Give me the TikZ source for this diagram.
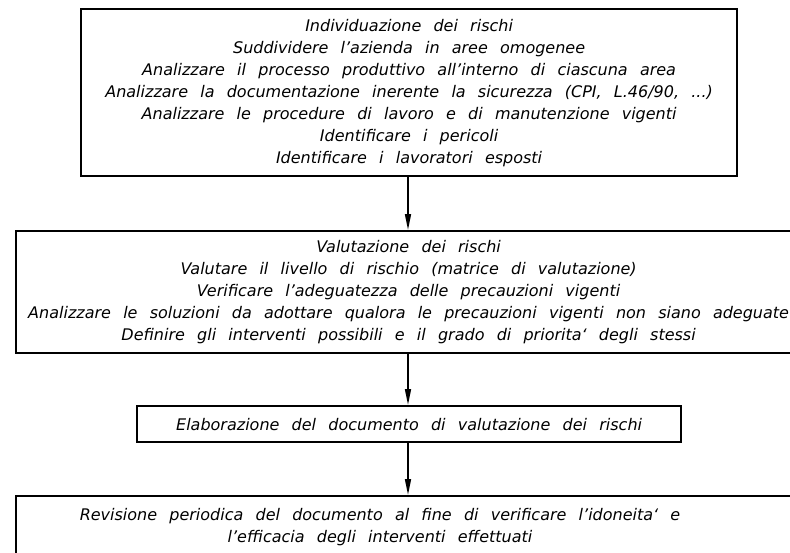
\documentclass[tikz,border=0pt]{standalone}
\usepackage{fontspec}
\newfontfamily\cadfont[WordSpace=2.4]{DejaVu Sans}
\usetikzlibrary{arrows.meta}
\tikzset{
  frame/.style={draw, line width=2.2pt, anchor=north west, inner sep=0pt},
  txt/.style={inner sep=0pt, align=center,
    font=\cadfont\itshape\fontsize{16}{22}\selectfont},
  box/.style={frame, txt},
  arr/.style={line width=1.6pt, -{Triangle[length=16pt,width=6pt]}}
}
\begin{document}
\begin{tikzpicture}[x=1pt,y=-1pt]
\clip (0,0) rectangle (790,552);
\fill[white] (0,0) rectangle (790,552);
\node[box, minimum width=656pt, minimum height=167pt] (b1) at (80,8)
 {Individuazione dei rischi\\
  Suddividere l’azienda in aree omogenee\\
  Analizzare il processo produttivo all’interno di ciascuna area\\
  Analizzare la documentazione inerente la sicurezza (CPI, L.46/90, ...)\\
  Analizzare le procedure di lavoro e di manutenzione vigenti\\
  Identificare i pericoli\\
  Identificare i lavoratori esposti};
\node[box, minimum width=785pt, minimum height=122pt] (b2) at (15,230)
 {Valutazione dei rischi\\
  Valutare il livello di rischio (matrice di valutazione)\\
  Verificare l’adeguatezza delle precauzioni vigenti\\
  Analizzare le soluzioni da adottare qualora le precauzioni vigenti non siano adeguate\\
  Definire gli interventi possibili e il grado di priorita‘ degli stessi};
\node[box, minimum width=544pt, minimum height=36pt] (b3) at (136,405)
 {Elaborazione del documento di valutazione dei rischi};
\node[frame, minimum width=785pt, minimum height=66pt] (b4) at (15,495) {};
\node[txt] (t4) at (380,527)
 {Revisione periodica del documento al fine di verificare l’idoneita‘ e\\
  l’efficacia degli interventi effettuati};
\coordinate (ax) at (408,0);
\draw[arr] (b1.south -| ax) -- (b2.north -| ax);
\draw[arr] (b2.south -| ax) -- (b3.north -| ax);
\draw[arr] (b3.south -| ax) -- (b4.north -| ax);
\end{tikzpicture}
\end{document}
